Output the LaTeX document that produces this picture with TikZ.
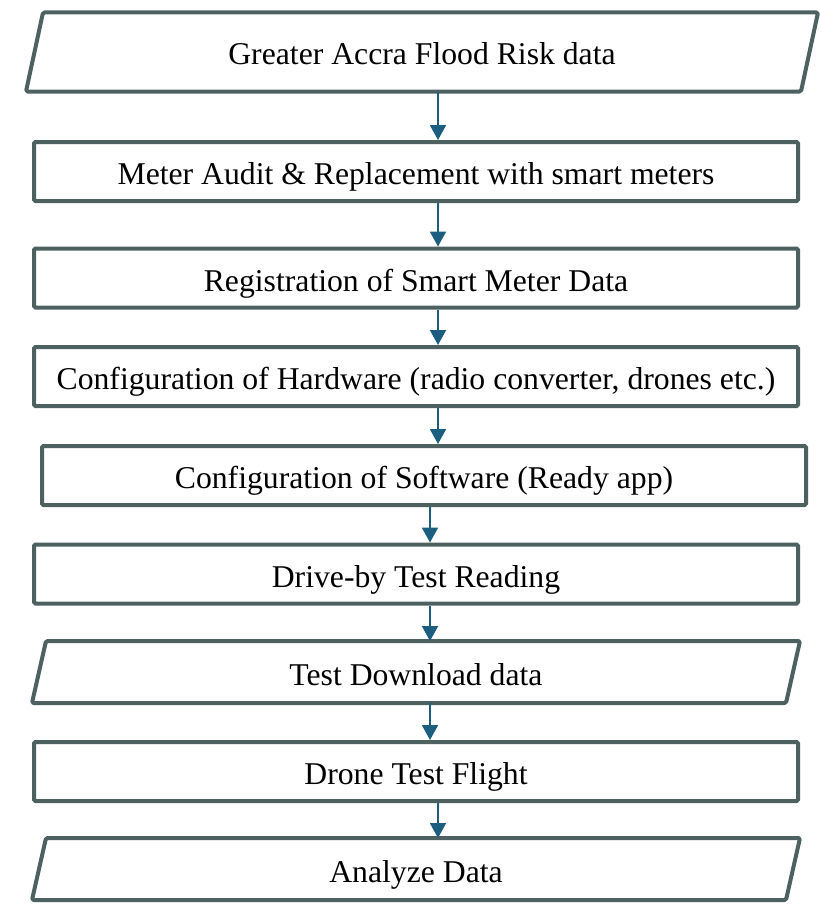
\documentclass[tikz,border=0pt]{standalone}
\usepackage{fontspec}
\setmainfont{Liberation Serif}
\usepackage{xcolor}
\usepackage{tikz}
\usetikzlibrary{calc}
\usetikzlibrary{arrows.meta}
\definecolor{boxline}{HTML}{4E6161}
\definecolor{arrowblue}{HTML}{1B5E80}
\tikzset{
  stepbox/.style={draw=boxline, line width=4pt, rounded corners=1.5pt, fill=white,
    minimum width=764pt, minimum height=59pt, inner sep=0pt,
    text height=26pt, text depth=0pt,
    font=\fontsize{31.7}{36}\selectfont},
  iobox/.style={stepbox, draw=none, fill=none},
  ioline/.style={draw=boxline, line width=4pt, rounded corners=1.5pt, line join=round},
  flow/.style={arrowblue, line width=2pt, -{Triangle[length=15pt,width=16pt]}}
}

\begin{document}
\begin{tikzpicture}[x=1pt,y=-1pt]
\useasboundingbox (0,0) rectangle (821,907);

\node[iobox, minimum width=788pt, minimum height=75pt] (risk) at (422,52) {Greater Accra Flood Risk data};
\node[stepbox] (audit) at (416,171.5) {Meter Audit \& Replacement with smart meters};
\node[stepbox] (reg) at (416,278) {Registration of Smart Meter Data};
\node[stepbox] (hw) at (416,376.5) {Configuration of Hardware (radio converter, drones etc.)};
\node[stepbox] (sw) at (424,475.5) {Configuration of Software (Ready app)};
\node[stepbox] (drive) at (416,574) {Drive-by Test Reading};
\node[iobox, minimum height=58pt] (dl) at (416,672) {Test Download data};
\node[stepbox] (drone) at (416,771.5) {Drone Test Flight};
\node[iobox, minimum height=58pt] (ana) at (416,869) {Analyze Data};

% data boxes (parallelograms)
\draw[ioline] (risk.south west) -- ($(risk.north west)+(17,0)$) -- (risk.north east) -- ($(risk.south east)-(17,0)$) -- cycle;
\draw[ioline] (dl.south west) -- ($(dl.north west)+(14,0)$) -- (dl.north east) -- ($(dl.south east)-(14,0)$) -- cycle;
\draw[ioline] (ana.south west) -- ($(ana.north west)+(14,0)$) -- (ana.north east) -- ($(ana.south east)-(14,0)$) -- cycle;

% arrow columns
\coordinate (colA) at (438,0);
\coordinate (colB) at (430,0);

\draw[flow] (risk.south -| colA) -- (audit.north -| colA);
\draw[flow] (audit.south -| colA) -- (reg.north -| colA);
\draw[flow] (reg.south -| colA) -- (hw.north -| colA);
\draw[flow] (hw.south -| colA) -- (sw.north -| colA);
\draw[flow] (sw.south -| colB) -- (drive.north -| colB);
\draw[flow] (drive.south -| colB) -- (dl.north -| colB);
\draw[flow] (dl.south -| colB) -- (drone.north -| colB);
\draw[flow] (drone.south -| colA) -- (ana.north -| colA);
\end{tikzpicture}
\end{document}
